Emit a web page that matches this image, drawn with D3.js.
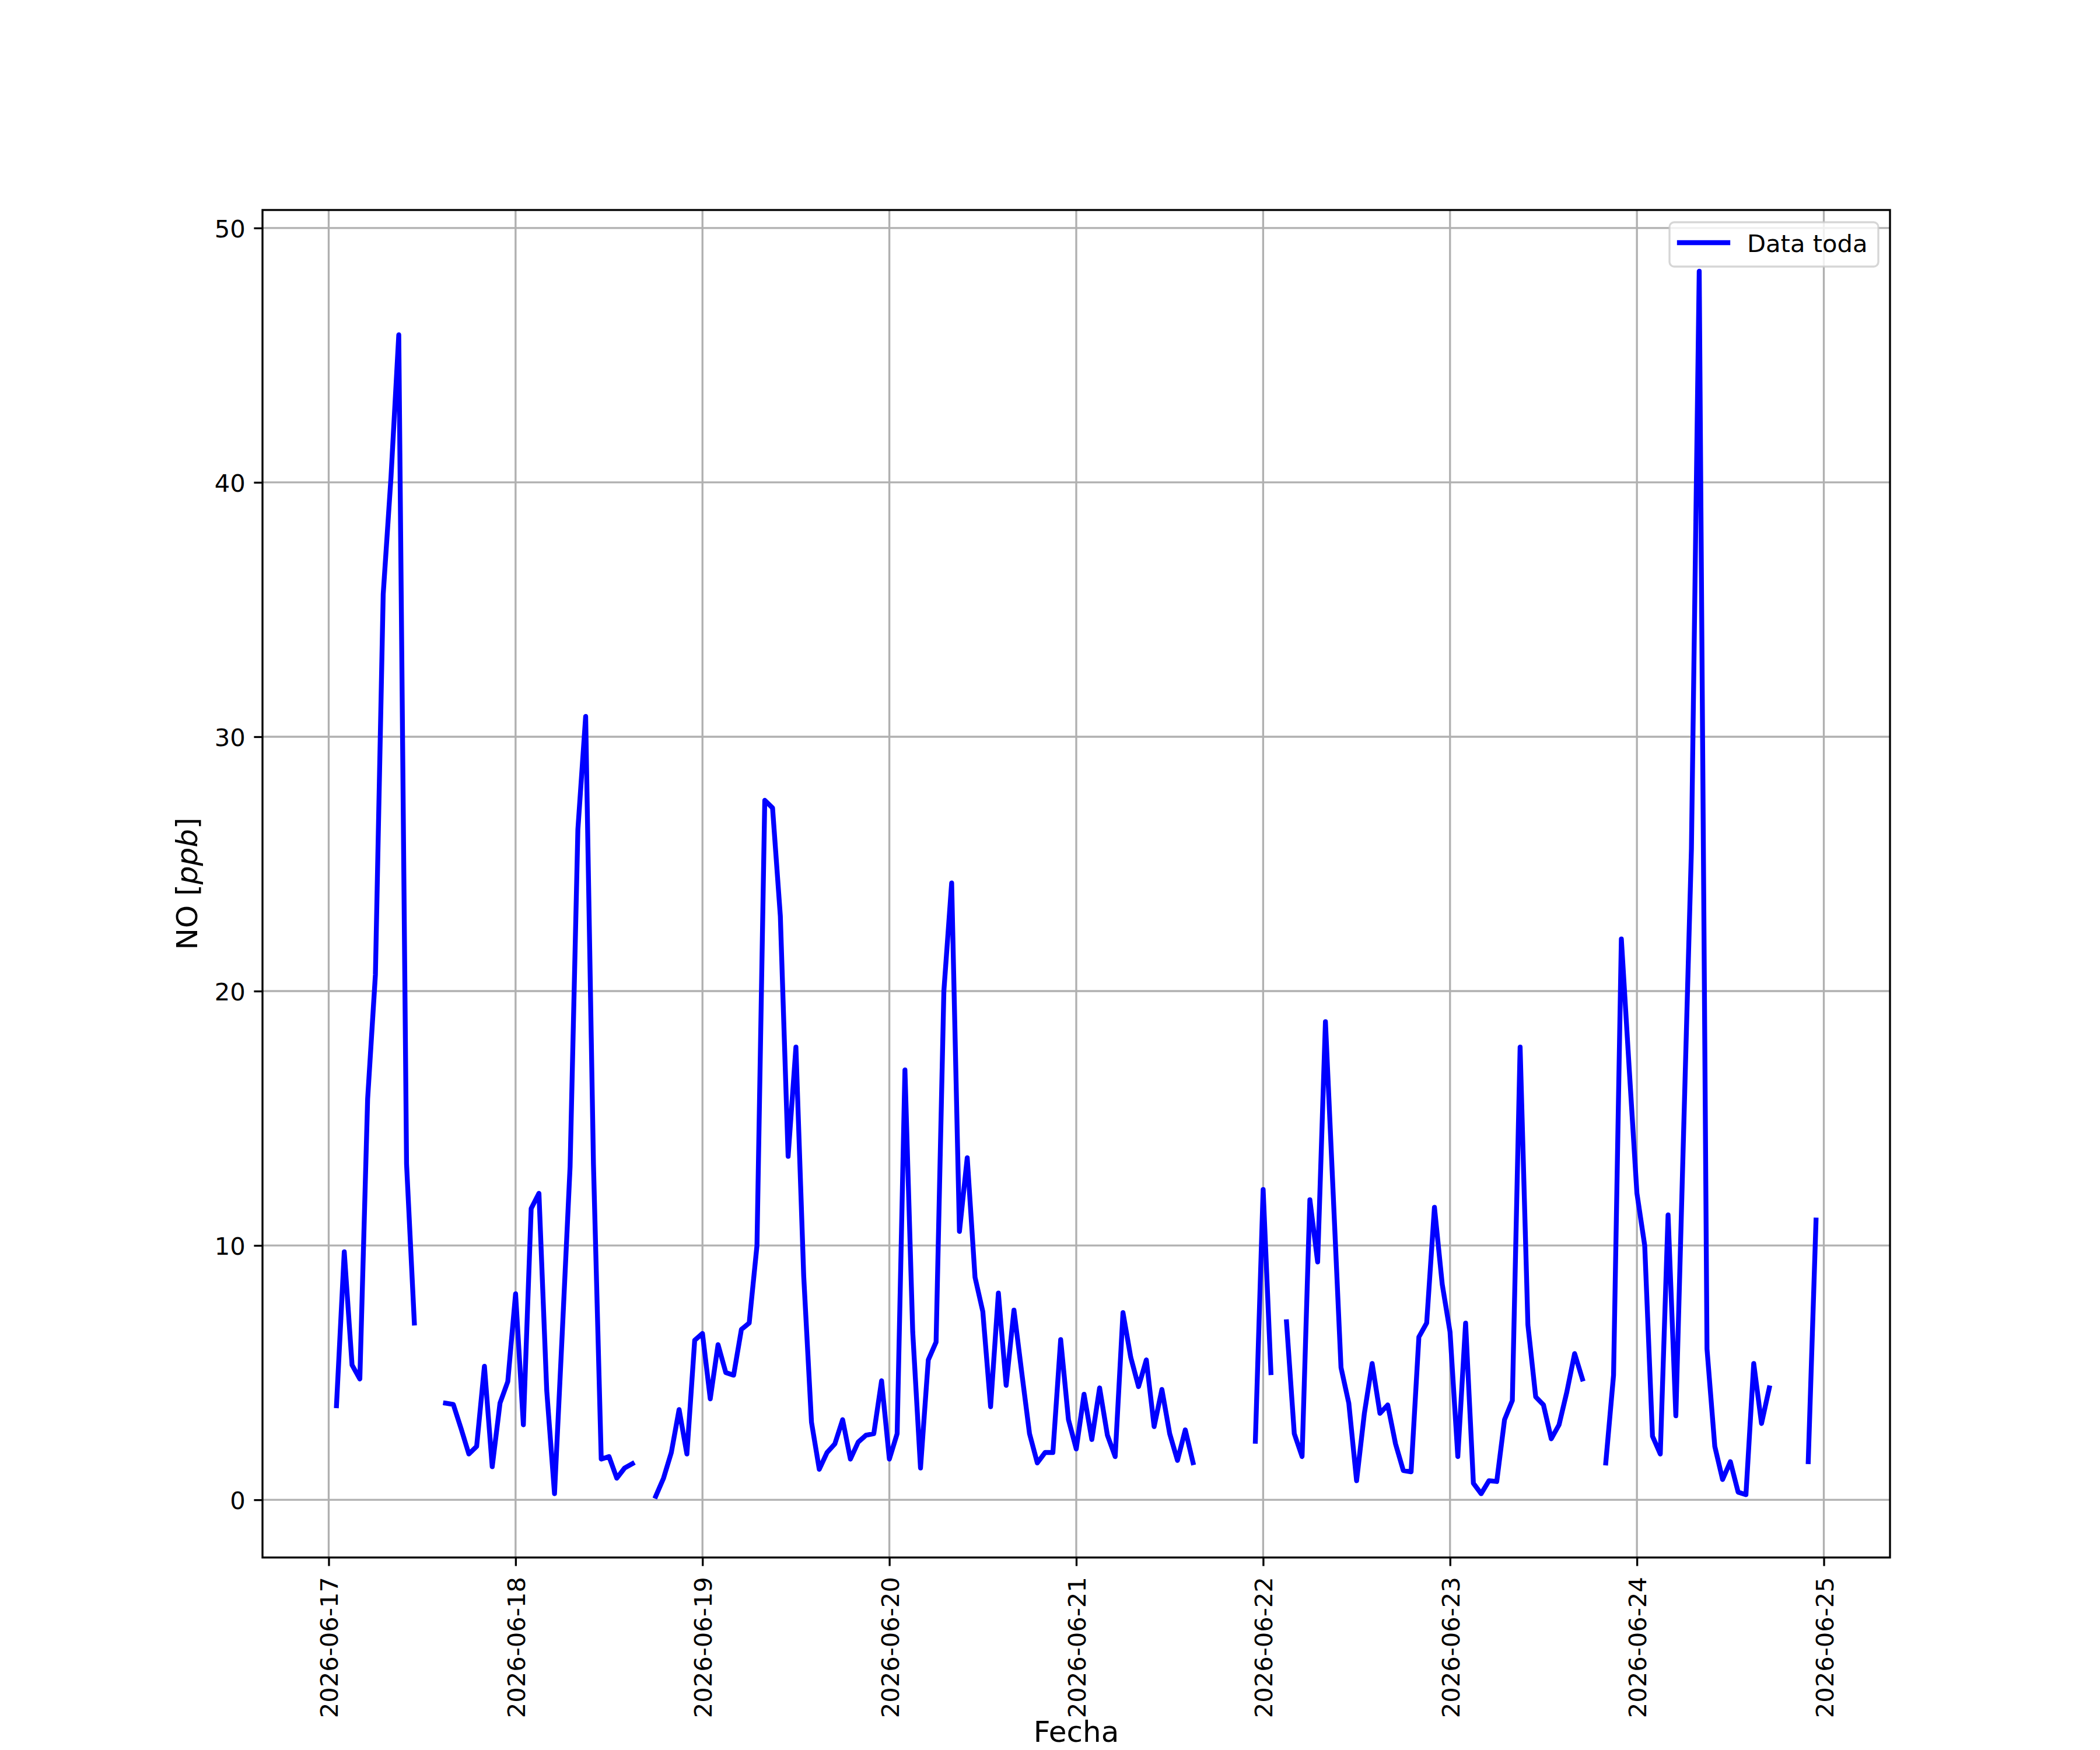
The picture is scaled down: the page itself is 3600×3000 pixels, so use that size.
<!DOCTYPE html>
<html><head><meta charset="utf-8">
<script src="https://cdn.jsdelivr.net/npm/d3@7"></script>
<style>body{margin:0;background:#fff} svg text{font-family:"DejaVu Sans",sans-serif}</style>
</head><body><svg id="c" width="3600" height="3000" xmlns="http://www.w3.org/2000/svg"></svg>
<script>
// ---- data (hourly NO values, null = missing) ----
const startTime = "2026-06-17T00:00:00Z";
const noPpb = [
  null, 3.7, 9.75, 5.3, 4.75, 15.75, 20.65, 35.6, 40.2, 45.8, 13.2, 6.95,
  null, null, null, 3.8, 3.75, 2.8, 1.8, 2.1, 5.25, 1.3, 3.8, 4.65,
  8.1, 2.95, 11.45, 12.05, 4.3, 0.24, 6.6, 13.1, 26.35, 30.8, 13.2, 1.6,
  1.7, 0.85, 1.25, 1.42, null, null, 0.14, 0.85, 1.86, 3.55, 1.8, 6.27,
  6.54, 3.97, 6.1, 5.0, 4.9, 6.7, 6.95, 10.0, 27.5, 27.2, 22.95, 13.5,
  17.8, 8.8, 3.05, 1.2, 1.86, 2.2, 3.15, 1.6, 2.27, 2.54, 2.6, 4.68,
  1.6, 2.6, 16.9, 6.6, 1.25, 5.5, 6.2, 20.0, 24.25, 10.55, 13.45, 8.75,
  7.4, 3.66, 8.13, 4.5, 7.46, 5.0, 2.6, 1.45, 1.86, 1.86, 6.3, 3.15,
  2.0, 4.15, 2.37, 4.4, 2.54, 1.7, 7.36, 5.6, 4.45, 5.5, 2.88, 4.34,
  2.6, 1.55, 2.75, 1.46, null, null, null, null, null, null, null, 2.3,
  12.2, 5.0, null, 7.0, 2.6, 1.7, 11.8, 9.35, 18.8, 12.0, 5.2, 3.8,
  0.75, 3.4, 5.36, 3.4, 3.73, 2.2, 1.15, 1.1, 6.4, 6.95, 11.5, 8.47,
  6.6, 1.7, 6.95, 0.65, 0.24, 0.75, 0.72, 3.15, 3.9, 17.8, 6.88, 4.05,
  3.73, 2.4, 2.95, 4.24, 5.75, 4.75, null, null, 1.45, 4.9, 22.05, 17.0,
  12.05, 10.0, 2.5, 1.8, 11.2, 3.3, 14.5, 25.6, 48.3, 5.93, 2.1, 0.8,
  1.5, 0.3, 0.2, 5.36, 3.0, 4.4, null, null, null, null, 1.5, 11.0
];
const dayTicks = ["2026-06-17","2026-06-18","2026-06-19","2026-06-20","2026-06-21",
                  "2026-06-22","2026-06-23","2026-06-24","2026-06-25"];
const yTicks = [0, 10, 20, 30, 40, 50];
const seriesName = "Data toda";
const xLabelText = "Fecha";

// ---- layout ----
const W = 3600, H = 3000;
const L = 450, R = 3240, T = 360, B = 2670;
const FS = 41.67, LFS = 50, LW = 3.33, TICK = 14.6, PAD = 14.6;

const t0 = Date.parse(startTime);
const data = noPpb.map((v, i) => ({ t: new Date(t0 + i * 3600e3), v }));
const defined = data.filter(d => d.v != null);

const tExt = d3.extent(defined, d => +d.t);
const tSpan = tExt[1] - tExt[0];
const x = d3.scaleUtc()
  .domain([new Date(tExt[0] - 0.05 * tSpan), new Date(tExt[1] + 0.05 * tSpan)])
  .range([L, R]);
const vExt = d3.extent(defined, d => d.v);
const vSpan = vExt[1] - vExt[0];
const y = d3.scaleLinear()
  .domain([vExt[0] - 0.05 * vSpan, vExt[1] + 0.05 * vSpan])
  .range([B, T]);

const svg = d3.select("#c");
svg.append("rect").attr("width", W).attr("height", H).attr("fill", "#fff");

const tickDates = dayTicks.map(s => new Date(s + "T00:00:00Z"));

// grid
const grid = svg.append("g").attr("stroke", "#b0b0b0").attr("stroke-width", LW);
grid.selectAll("line.gx").data(tickDates).join("line")
  .attr("x1", d => x(d)).attr("x2", d => x(d)).attr("y1", T).attr("y2", B);
grid.selectAll("line.gy").data(yTicks).join("line")
  .attr("y1", d => y(d)).attr("y2", d => y(d)).attr("x1", L).attr("x2", R);

// series line
const line = d3.line().defined(d => d.v != null).x(d => x(d.t)).y(d => y(d.v));
svg.append("path").datum(data)
  .attr("d", line)
  .attr("fill", "none").attr("stroke", "#0000ff")
  .attr("stroke-width", 8.33)
  .attr("stroke-linejoin", "round").attr("stroke-linecap", "square");

// spines
svg.append("rect").attr("x", L).attr("y", T).attr("width", R - L).attr("height", B - T)
  .attr("fill", "none").attr("stroke", "#000").attr("stroke-width", LW);

// x axis
const xAxis = svg.append("g").attr("transform", `translate(0,${B})`)
  .call(d3.axisBottom(x).tickValues(tickDates).tickFormat(d3.utcFormat("%Y-%m-%d"))
        .tickSize(TICK).tickPadding(PAD));
xAxis.select(".domain").remove();
xAxis.attr("font-size", FS).attr("font-family", "DejaVu Sans");
xAxis.selectAll(".tick line").attr("stroke", "#000").attr("stroke-width", LW);
xAxis.selectAll(".tick text")
  .attr("fill", "#000")
  .attr("transform", "rotate(-90)")
  .attr("x", -(TICK + PAD + 4)).attr("y", 15.5).attr("dy", null)
  .attr("text-anchor", "end");

// y axis
const yAxis = svg.append("g").attr("transform", `translate(${L},0)`)
  .call(d3.axisLeft(y).tickValues(yTicks).tickFormat(d3.format("d"))
        .tickSize(TICK).tickPadding(PAD));
yAxis.select(".domain").remove();
yAxis.attr("font-size", FS).attr("font-family", "DejaVu Sans");
yAxis.selectAll(".tick line").attr("stroke", "#000").attr("stroke-width", LW);
yAxis.selectAll(".tick text").attr("fill", "#000").attr("dy", null).attr("y", 15.5);

// axis labels
svg.append("text").attr("x", (L + R) / 2).attr("y", 2986)
  .attr("text-anchor", "middle").attr("font-size", LFS).text(xLabelText);
const yl = svg.append("text").attr("transform", `translate(338,${(T + B) / 2}) rotate(-90)`)
  .attr("text-anchor", "middle").attr("font-size", LFS);
yl.append("tspan").text("NO [");
yl.append("tspan").attr("font-style", "italic").text("ppb");
yl.append("tspan").text("]");

// legend
const lg = svg.append("g");
lg.append("rect").attr("x", 2862).attr("y", 381).attr("width", 358).attr("height", 76)
  .attr("rx", 8).attr("ry", 8)
  .attr("fill", "#fff").attr("fill-opacity", 0.8)
  .attr("stroke", "#cccccc").attr("stroke-opacity", 0.8).attr("stroke-width", LW);
lg.append("line").attr("x1", 2879).attr("x2", 2962).attr("y1", 416).attr("y2", 416)
  .attr("stroke", "#0000ff").attr("stroke-width", 8.33).attr("stroke-linecap", "square");
lg.append("text").attr("x", 2995).attr("y", 432).attr("font-size", FS).text(seriesName);
</script>
</body></html>
